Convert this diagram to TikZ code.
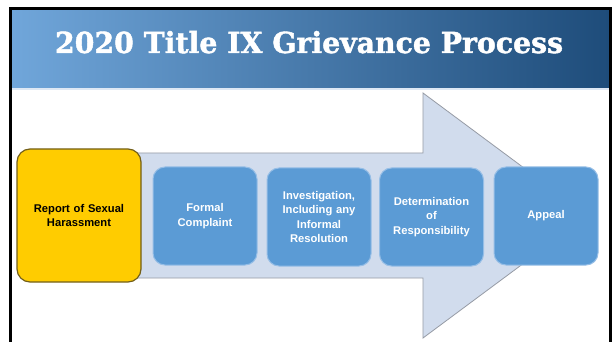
\documentclass[tikz,border=0pt]{standalone}
\usepackage{fontspec}
\setmainfont{Liberation Sans}
\newfontfamily\titlefont[FakeBold=1.5]{DejaVu Serif Bold}
\usetikzlibrary{shadings}
\definecolor{hdrL}{RGB}{112,166,218}
\definecolor{hdrR}{RGB}{30,76,122}
\definecolor{hdrline}{RGB}{222,232,244}
\definecolor{arrowfill}{RGB}{209,220,237}
\definecolor{arrowline}{RGB}{150,155,165}
\definecolor{boxblue}{RGB}{91,155,213}
\definecolor{boxrim}{RGB}{150,190,230}
\definecolor{ygold}{RGB}{255,204,0}
\definecolor{yrim}{RGB}{115,95,25}
\tikzset{
  stepbox/.style={draw=boxrim, line width=1pt, fill=boxblue, rounded corners=12pt,
    minimum width=104pt, minimum height=98pt, text width=100pt, align=center,
    font=\bfseries\fontsize{11.2}{14.6}\selectfont, text=white, inner sep=0pt},
  firstbox/.style={draw=yrim, line width=1.2pt, fill=ygold, rounded corners=13pt,
    minimum width=124pt, minimum height=133pt, text width=118pt, align=center,
    font=\bfseries\fontsize{11.2}{14.6}\selectfont, text=black, inner sep=0pt},
  framebar/.style={fill=black, draw=none},
  titlestyle/.style={font=\titlefont\fontsize{29}{32}\selectfont, anchor=base, inner sep=0pt}
}
\begin{document}
\begin{tikzpicture}[x=1pt,y=-1pt]
\useasboundingbox (0,0) rectangle (616,342);
\fill[white] (0,0) rectangle (616,342);
% header
\shade[left color=hdrL, right color=hdrR] (12,10) rectangle (609,88);
\fill[hdrline] (12,88) rectangle (609,90);
% title
\node[titlestyle, text=white] (title) at (309,53) {\resizebox{508pt}{\height}{2020 Title IX Grievance Process}};
% frame
\fill[framebar] (9,7) rectangle (612,10);
\fill[framebar] (9,7) rectangle (12,342);
\fill[framebar] (609,7) rectangle (612,342);
% big arrow
\draw[fill=arrowfill, draw=arrowline, line width=0.8pt, line join=miter]
  (60,153) -- (423,153) -- (423,93) -- (588,215.5) -- (423,338) -- (423,278) -- (60,278) -- cycle;
% boxes
\node[firstbox] (report) at (79,215.5) {Report of Sexual\\Harassment};
\node[stepbox] (formal) at (205,216) {Formal\\Complaint};
\node[stepbox] (invest) at (319,217) {Investigation,\\Including any\\Informal\\Resolution};
\node[stepbox] (determ) at (431.5,217) {Determination\\of\\Responsibility};
\node[stepbox] (appeal) at (546,216) {Appeal};
\end{tikzpicture}
\end{document}
